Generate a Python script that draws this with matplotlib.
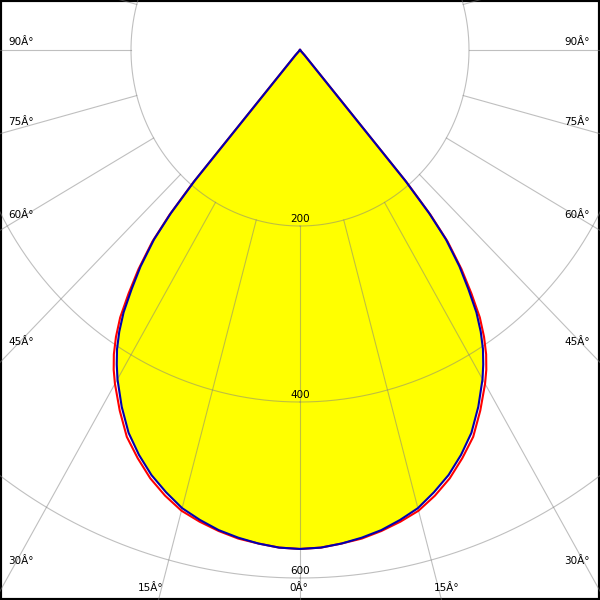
import numpy as np
import matplotlib
matplotlib.use("Agg")
import matplotlib.pyplot as plt

# Lichtstärkeverteilung (cd) über dem Ausstrahlungswinkel gamma
gamma = [0, 2.5, 5, 7.5, 10, 12.5, 15, 17.5, 20, 22.5, 25, 27.5, 30,
         31.25, 32.5, 33.75, 35, 36.25, 37.5, 38.75, 39.5, 40, 42.5, 45, 50, 60, 70, 80, 90]
i_c0 = [567, 566, 563, 559, 554, 547, 539, 527, 514, 498, 480, 457, 432,
        418, 403, 385, 364, 337, 310, 276, 240, 194, 8, 0, 0, 0, 0, 0, 0]
i_c90 = [567, 566, 563, 560, 555, 549, 542, 531, 518, 502, 485, 462, 438,
         425, 410, 392, 371, 343, 314, 279, 243, 197, 8, 0, 0, 0, 0, 0, 0]

ring_values = [200, 400, 600]
spoke_angles = np.arange(0, 360, 15)

left_labels = ["90Â°", "75Â°", "60Â°", "45Â°", "30Â°"]
left_label_y = [42, 122, 215, 342, 561]
bottom_labels = ["15Â°", "0Â°", "15Â°"]
bottom_label_x = [151, 299, 447]

# Maßstab in Pixel je cd
sx, sy = 0.845, 0.88


def polar_xy(theta_deg, r):
    t = np.radians(theta_deg)
    return np.asarray(r) * np.sin(t), -np.asarray(r) * np.cos(t)


def closed_curve(angles, values):
    # spiegeln: linke und rechte Hälfte
    a = np.array(angles, dtype=float)
    v = np.array(values, dtype=float)
    full_a = np.concatenate([-a[::-1], a[1:]])
    full_v = np.concatenate([v[::-1], v[1:]])
    return polar_xy(full_a, full_v)


fig = plt.figure(figsize=(6, 6), dpi=100)
ax = fig.add_axes([0, 0, 1, 1])
ax.set_xlim(-300 / sx, 300 / sx)
ax.set_ylim(-550 / sy, 50 / sy)
ax.set_xticks([])
ax.set_yticks([])
for s in ax.spines.values():
    s.set_color("black")
    s.set_linewidth(3)

grid_kw = dict(color="#808080", alpha=0.5, lw=0.8, zorder=3)

# Kreise
t = np.linspace(0, 360, 721)
for r in ring_values:
    x, y = polar_xy(t, r)
    ax.plot(x, y, **grid_kw)

# Strahlen ab dem inneren Kreis
for a in spoke_angles:
    x, y = polar_xy(np.array([a, a]), np.array([ring_values[0], 2000]))
    ax.plot(x, y, **grid_kw)

# Füllung und Kurven
xb, yb = closed_curve(gamma, i_c0)
xr, yr = closed_curve(gamma, i_c90)
ax.fill(xb, yb, color="#ffff00", zorder=2, lw=0)
ax.plot(xr, yr, color="#ff0000", lw=1.5, zorder=4)
ax.plot(xb, yb, color="#0000b0", lw=1.5, zorder=5)

# Beschriftungen
for r in ring_values:
    ax.text(0, -r + 2 / sy, str(r), ha="center", va="bottom", fontsize=7.5, zorder=6)

for lab, py in zip(left_labels, left_label_y):
    ax.text(8 / 600, 1 - py / 600, lab, transform=ax.transAxes,
            ha="left", va="center", fontsize=7.5)
    ax.text(1 - 10 / 600, 1 - py / 600, lab, transform=ax.transAxes,
            ha="right", va="center", fontsize=7.5)
for lab, px in zip(bottom_labels, bottom_label_x):
    ax.text(px / 600, 1 - 588 / 600, lab, transform=ax.transAxes,
            ha="center", va="center", fontsize=7.5)

fig.savefig("out.png", dpi=100)
